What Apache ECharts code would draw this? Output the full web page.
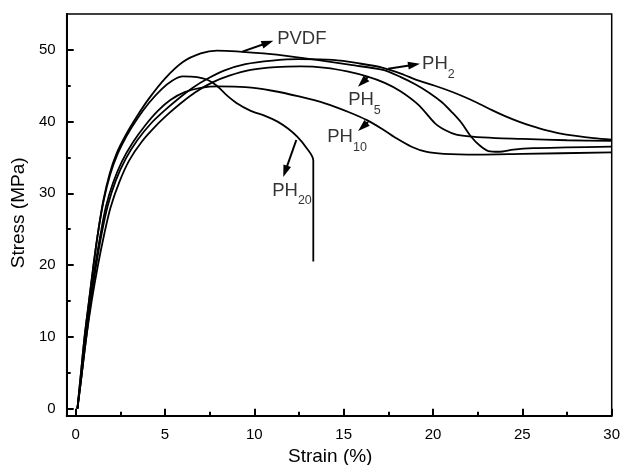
<!DOCTYPE html>
<html>
<head>
<meta charset="utf-8">
<script src="https://cdn.jsdelivr.net/npm/echarts@6/dist/echarts.min.js"></script>
<style>
  html, body { margin: 0; padding: 0; background: #fff; }
  #chart { width: 622px; height: 465px; }
</style>
</head>
<body>
<div id="chart"></div>
<script>
// stress-strain curves, [strain %, stress MPa]
const pvdf = [
  [0.1, 0], [0.3, 5], [0.5, 10], [0.75, 15], [1.0, 20], [1.25, 24.5], [1.55, 29], [1.9, 32.7],
  [2.3, 35.6], [2.8, 38.1], [3.4, 40.6], [4.1, 43.2], [5.0, 46.0], [6.0, 48.3], [7.0, 49.5],
  [7.9, 49.9], [9.0, 49.8], [10.5, 49.5], [12.0, 49.1], [13.5, 48.6], [15.4, 47.9], [17.2, 47.2],
  [18.2, 46.2], [19.0, 45.2], [19.8, 44.0], [20.5, 42.7], [21.1, 41.2], [21.6, 39.8], [22.1, 38.0],
  [22.6, 36.7], [23.1, 35.9], [23.7, 35.8], [24.5, 36.1], [25.6, 36.3], [27.5, 36.4], [30, 36.5]
];
const ph2 = [
  [0.1, 0], [0.35, 5], [0.6, 10], [0.85, 15], [1.15, 20], [1.45, 24.3], [1.8, 28.3], [2.25, 31.8],
  [2.8, 34.8], [3.45, 37.4], [4.2, 39.7], [5.0, 41.6], [5.8, 43.3], [6.6, 44.8], [7.4, 46.0],
  [8.3, 47.1], [9.5, 48.0], [11.0, 48.5], [12.5, 48.7], [14.4, 48.6], [15.9, 48.1], [17.2, 47.5],
  [18.2, 46.7], [19.2, 45.7], [20.1, 45.0], [20.9, 44.3], [21.7, 43.5], [22.5, 42.6], [23.3, 41.6],
  [24.0, 40.8], [24.8, 40.0], [25.5, 39.4], [26.3, 38.8], [27.0, 38.4], [28.0, 38.0], [29.0, 37.7],
  [30, 37.5]
];
const ph5 = [
  [0.1, 0], [0.35, 5], [0.6, 10], [0.9, 15], [1.25, 20], [1.6, 24.3], [1.95, 28], [2.45, 31.6],
  [3.0, 34.6], [3.7, 37.2], [4.45, 39.3], [5.2, 41.1], [5.9, 42.6], [6.7, 44.1], [7.6, 45.4],
  [8.6, 46.4], [9.8, 47.2], [11.2, 47.6], [12.6, 47.7], [14.0, 47.5], [15.2, 47.0], [16.3, 46.3],
  [17.3, 45.4], [18.2, 44.2], [19.2, 42.3], [20.1, 39.8], [20.7, 38.8], [21.3, 38.2], [22.2, 37.9],
  [23.5, 37.7], [25, 37.6], [27.5, 37.4], [30, 37.3]
];
const ph10 = [
  [0.1, 0], [0.35, 5], [0.55, 10], [0.8, 15], [1.1, 20], [1.4, 24.4], [1.7, 28.2], [2.1, 31.5],
  [2.6, 34.5], [3.2, 37.1], [3.9, 39.5], [4.6, 41.5], [5.3, 43.0], [6.1, 44.1], [7.0, 44.7],
  [8.0, 44.9], [9.5, 44.8], [11.0, 44.3], [12.5, 43.5], [14.0, 42.5], [15.3, 41.3], [16.3, 40.2],
  [17.2, 38.9], [18.0, 37.6], [18.8, 36.5], [19.6, 35.8], [20.6, 35.5], [22.5, 35.4], [25, 35.5],
  [30, 35.7]
];
const ph20 = [
  [0.1, 0], [0.3, 5], [0.5, 10], [0.75, 15], [1.0, 20], [1.25, 24.5], [1.57, 29], [1.93, 32.6],
  [2.35, 35.5], [2.85, 38.0], [3.45, 40.4], [4.1, 42.6], [4.8, 44.5], [5.4, 45.7], [6.0, 46.3],
  [6.8, 46.2], [7.4, 45.8], [7.9, 45.0], [8.4, 43.8], [9.0, 42.6], [9.8, 41.5], [10.6, 40.8],
  [11.3, 40.0], [11.9, 39.0], [12.4, 37.9], [12.9, 36.4], [13.3, 34.6], [13.3, 20.5]
];

const xTicks = [0, 5, 10, 15, 20, 25, 30];
const xMinorTicks = [2.5, 7.5, 12.5, 17.5, 22.5, 27.5];
const yTicks = [0, 10, 20, 30, 40, 50];
const yMinorTicks = [5, 15, 25, 35, 45];

// curve labels: text anchor, arrow tail (on curve) and arrow head centre
const labelNames = ['PVDF', 'PH', 'PH', 'PH', 'PH'];
const labelSubs = ['', '2', '5', '10', '20'];
const labelAt = [[11.28, 51.57], [19.39, 48.07], [15.25, 43.03], [14.08, 37.86], [11.0, 30.4]];
const arrowTail = [[9.33, 49.75], [17.49, 47.37], [16.37, 46.25], [16.37, 39.96], [12.35, 37.44]];
const arrowHead = [[10.75, 51.0], [18.94, 47.94], [16.04, 45.44], [16.06, 39.26], [11.73, 33.05]];

const FONT = "'Liberation Sans', Arial, sans-serif";

const chart = echarts.init(document.getElementById('chart'), null, { renderer: 'canvas' });

function curve(name, data) {
  return {
    name: name,
    type: 'line',
    data: data,
    showSymbol: false,
    smooth: 0.3,
    lineStyle: { color: '#000', width: 1.8 },
    silent: true
  };
}

const option = {
  animation: false,
  backgroundColor: '#fff',
  grid: {
    left: 66.7, right: 10.3, top: 14, bottom: 49.3,
    outerBoundsMode: 'none',
    containLabel: false,
    show: true, borderColor: '#000', borderWidth: 1.5
  },
  xAxis: [
    {
      type: 'value', min: -0.5, max: 30, position: 'bottom',
      axisLine: { show: true, onZero: false, lineStyle: { color: '#000', width: 2 } },
      axisTick: { show: true, inside: true, length: 7, customValues: xTicks, lineStyle: { color: '#000', width: 2 } },
      axisLabel: { customValues: xTicks, color: '#000', fontSize: 15, fontFamily: FONT, margin: 12 },
      splitLine: { show: false },
      name: 'Strain (%)', nameLocation: 'middle', nameGap: 24,
      nameTextStyle: { color: '#000', fontSize: 19, fontFamily: FONT, padding: [0, 18, 0, 0] }
    },
    {
      type: 'value', min: -0.5, max: 30, position: 'bottom',
      axisLine: { show: false, onZero: false },
      axisTick: { show: true, inside: true, length: 4, customValues: xMinorTicks, lineStyle: { color: '#000', width: 2 } },
      axisLabel: { show: false },
      splitLine: { show: false }
    }
  ],
  yAxis: [
    {
      type: 'value', min: -1, max: 55, position: 'left',
      axisLine: { show: true, onZero: false, lineStyle: { color: '#000', width: 2 } },
      axisTick: { show: true, inside: true, length: 7, customValues: yTicks, lineStyle: { color: '#000', width: 2 } },
      axisLabel: { customValues: yTicks, color: '#000', fontSize: 15, fontFamily: FONT, margin: 11 },
      splitLine: { show: false },
      name: 'Stress (MPa)', nameLocation: 'middle', nameGap: 34,
      nameTextStyle: { color: '#000', fontSize: 19, fontFamily: FONT, padding: [0, 0, 0, 4] }
    },
    {
      type: 'value', min: -1, max: 55, position: 'left',
      axisLine: { show: false, onZero: false },
      axisTick: { show: true, inside: true, length: 4, customValues: yMinorTicks, lineStyle: { color: '#000', width: 2 } },
      axisLabel: { show: false },
      splitLine: { show: false }
    }
  ],
  series: [
    curve('PVDF', pvdf),
    curve('PH2', ph2),
    curve('PH5', ph5),
    curve('PH10', ph10),
    curve('PH20', ph20),
    {
      name: 'labels',
      type: 'scatter',
      symbolSize: 0,
      silent: true,
      itemStyle: { color: '#000' },
      data: labelAt.map((p, i) => ({ value: p, name: labelNames[i], sub: labelSubs[i] })),
      label: {
        show: true,
        position: 'right',
        distance: 0,
        formatter: (p) => p.data.sub ? `{m|${p.data.name}}{s|${p.data.sub}}` : `{m|${p.data.name}}`,
        rich: {
          m: { fontSize: 18.5, fontFamily: FONT, color: '#000', lineHeight: 34, verticalAlign: 'middle' },
          s: { fontSize: 12.5, fontFamily: FONT, color: '#000', lineHeight: 12, verticalAlign: 'bottom' }
        }
      },
      markLine: {
        silent: true,
        symbol: ['none', 'triangle'],
        symbolSize: [8, 12],
        label: { show: false },
        itemStyle: { color: '#000' },
        lineStyle: { color: '#000', width: 2, type: 'solid' },
        emphasis: { disabled: true },
        data: arrowTail.map((t, i) => [{ coord: t }, { coord: arrowHead[i] }])
      }
    }
  ]
};

chart.setOption(option);
</script>
</body>
</html>
